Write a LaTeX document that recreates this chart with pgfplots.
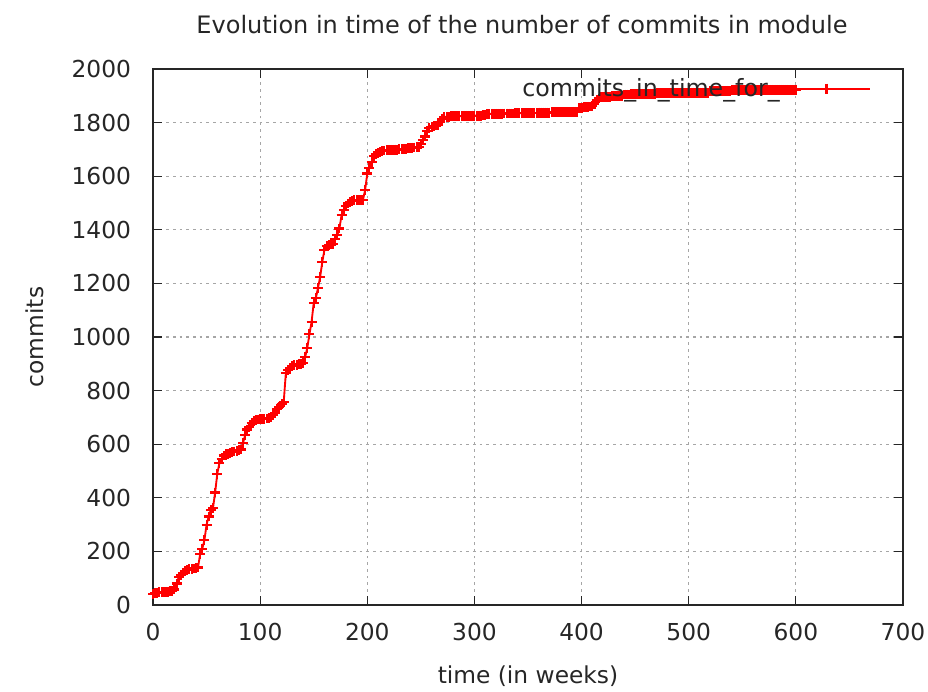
\documentclass[border=0pt]{standalone}
\usepackage{fontspec}
\setmainfont{DejaVu Sans}
\usepackage{pgfplots}
\pgfplotsset{compat=1.18}
\begin{document}
\begin{tikzpicture}
\begin{axis}[
  scale only axis,
  width=562.5pt, height=402pt,
  xmin=0, xmax=700, ymin=0, ymax=2000,
  xtick={0,100,...,700}, ytick={0,200,...,2000},
  font=\fontsize{17.5}{21}\selectfont,
  /pgf/number format/assume math mode=true,
  /pgf/number format/1000 sep={},
  tick align=inside,
  major tick length=6.75pt,
  axis line style={black!85, line width=1pt},
  every tick/.style={black!85, line width=0.8pt},
  grid=major,
  major grid style={gray!70, line width=0.8pt, dash pattern=on 2pt off 3pt},
  tick label style={text=black!85},
  xticklabel style={yshift=-10pt},
  yticklabel style={xshift=-13pt},
  title={Evolution in time of the number of commits in module},
  title style={at={(axis description cs:0.5,1.0672)}, anchor=center, xshift=-4.5pt, text=black!85, font=\fontsize{18}{21}\selectfont},
  xlabel={time (in weeks)},
  xlabel style={at={(axis description cs:0.5,-0.1325)}, anchor=center, text=black!85},
  ylabel={commits},
  ylabel style={at={(axis description cs:-0.1573,0.5)}, anchor=center, text=black!85},
  legend style={draw=none, fill=none, at={(axis description cs:1,1)}, anchor=north east, xshift=-21pt, yshift=-3pt, text=black!85, font=\fontsize{17.8}{21}\selectfont},
  legend plot pos=right,
  legend image code/.code={\draw[mark repeat=2,mark phase=2,#1] plot coordinates {(0cm,0cm) (1.14cm,0cm) (2.28cm,0cm)};},
]
\addplot[color=red, line width=1.4pt, mark=+, mark size=3.7pt, mark options={red, solid, line width=1.6pt}] table {
x y
0 42
2 45
4 46
6 47
8 48
10 48
12 49
14 50
16 52
18 53
20 58
22 80
24 104
26 112
28 120
30 126
32 130
34 133
36 135
38 136
40 137
42 140
44 190
46 210
48 242
50 300
52 330
54 355
56 362
58 420
60 490
62 530
64 545
66 558
68 562
70 565
72 568
74 570
76 573
78 575
80 577
82 580
84 604
86 634
88 655
90 664
92 680
94 688
96 690
98 692
100 693
102 694
104 695
106 696
108 698
110 700
112 708
114 716
116 730
118 739
120 750
122 757
124 866
126 876
128 884
130 893
132 895
134 897
136 898
138 900
140 902
142 925
144 959
146 1010
148 1056
150 1127
152 1145
154 1183
156 1224
158 1280
160 1325
162 1338
164 1343
166 1345
168 1347
170 1365
172 1380
174 1405
176 1455
178 1475
180 1490
182 1498
184 1504
186 1508
188 1510
190 1511
192 1511
194 1512
196 1512
198 1549
200 1610
202 1630
204 1653
206 1675
208 1682
210 1686
212 1690
214 1694
216 1696
218 1697
220 1697
222 1698
224 1698
226 1699
228 1699
230 1700
232 1701
234 1702
236 1703
238 1704
240 1705
242 1706
244 1707
246 1708
248 1710
250 1720
252 1735
254 1748
256 1770
258 1780
260 1783
262 1786
264 1789
266 1791
268 1802
270 1815
272 1821
274 1822
276 1822
278 1823
280 1823
282 1823
284 1824
286 1824
288 1824
290 1825
292 1825
294 1825
296 1825
298 1826
300 1826
302 1826
304 1826
306 1826
308 1827
310 1827
312 1832
314 1832
316 1833
318 1833
320 1833
322 1833
324 1833
326 1833
328 1834
330 1834
332 1834
334 1834
336 1834
338 1835
340 1835
342 1835
344 1835
346 1835
348 1835
350 1836
352 1836
354 1836
356 1836
358 1836
360 1837
362 1837
364 1837
366 1837
368 1837
370 1837
372 1838
374 1838
376 1838
378 1838
380 1838
382 1839
384 1839
386 1839
388 1839
390 1839
392 1840
394 1840
396 1840
398 1854
400 1856
402 1857
404 1858
406 1859
408 1860
410 1862
412 1870
414 1884
416 1890
418 1895
420 1896
422 1896
424 1897
426 1897
428 1898
430 1898
432 1899
434 1899
436 1900
438 1900
440 1905
442 1905
444 1905
446 1906
448 1906
450 1906
452 1906
454 1907
456 1907
458 1907
460 1907
462 1908
464 1908
466 1908
468 1908
470 1909
472 1909
474 1909
476 1909
478 1910
480 1910
482 1910
484 1910
486 1910
488 1911
490 1911
492 1911
494 1911
496 1911
498 1911
500 1912
502 1912
504 1912
506 1912
508 1912
510 1912
512 1912
514 1912
516 1912
518 1912
520 1918
522 1918
524 1918
526 1918
528 1919
530 1919
532 1919
534 1919
536 1919
538 1919
540 1920
542 1920
544 1920
546 1920
548 1920
550 1920
552 1920
554 1920
556 1921
558 1921
560 1921
562 1921
564 1921
566 1921
568 1921
570 1921
572 1921
574 1921
576 1922
578 1922
580 1922
582 1922
584 1922
586 1922
588 1922
590 1922
592 1922
594 1922
596 1922
598 1922
600 1922
};
\addlegendentry{commits\_in\_time\_for\_}
\coordinate (BL) at (rel axis cs:0,0);
\coordinate (TR) at (rel axis cs:1,1);
\end{axis}
\pgfresetboundingbox
\path ([shift={(-114.75pt,-64.5pt)}]BL) rectangle ([shift={(18.75pt,51.75pt)}]TR);
\end{tikzpicture}
\end{document}
